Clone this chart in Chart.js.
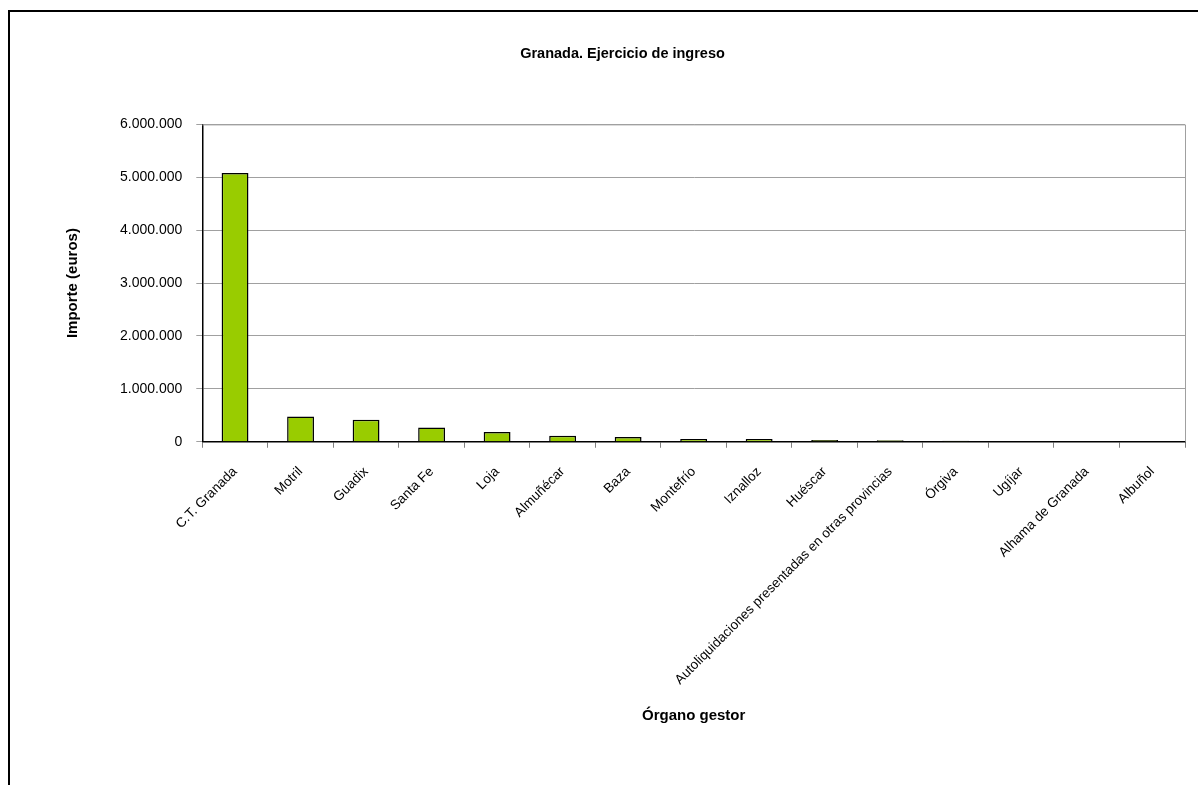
<!DOCTYPE html>
<html>
<head>
<meta charset="utf-8">
<script src="https://cdn.jsdelivr.net/npm/chart.js@4.4.1/dist/chart.umd.min.js"></script>
<style>
html,body{margin:0;padding:0;background:#fff;}
#wrap{position:relative;width:1198px;height:785px;overflow:hidden;}
#frame{position:absolute;left:8px;top:10px;width:1300px;height:900px;border-top:2px solid #000;border-left:2px solid #000;box-sizing:border-box;}
#c{position:absolute;left:0;top:0;}
</style>
</head>
<body>
<div id="wrap">
<div id="frame"></div>
<canvas id="c" width="1198" height="785"></canvas>
</div>
<script>
const categories = ["C.T. Granada","Motril","Guadix","Santa Fe","Loja","Almuñécar","Baza","Montefrío","Iznalloz","Huéscar","Autoliquidaciones presentadas en otras provincias","Órgiva","Ugíjar","Alhama de Granada","Albuñol"];
const importe = [5080000,479000,416000,271000,183000,114000,89000,51000,51000,32000,28000,19000,13000,12000,9000];
const yTicks = [0,1000000,2000000,3000000,4000000,5000000,6000000];
const chartTitle = "Granada. Ejercicio de ingreso";
const yTitle = "Importe (euros)";
const xTitle = "Órgano gestor";

function fmt(v){return String(v).replace(/\B(?=(\d{3})+(?!\d))/g,".");}

const plotBorder = {
  id:'plotBorder',
  afterDraw(chart){
    const {ctx, chartArea:a} = chart;
    ctx.save();
    ctx.strokeStyle='#a0a0a0';ctx.lineWidth=1;
    ctx.beginPath();
    ctx.moveTo(a.left,a.top+0.5);ctx.lineTo(a.right+0.5,a.top+0.5);ctx.lineTo(a.right+0.5,a.bottom);
    ctx.stroke();
    ctx.restore();
  }
};

new Chart(document.getElementById('c'),{
  type:'bar',
  data:{labels:categories,datasets:[{data:importe,backgroundColor:'#99cc00',borderColor:'#000000',borderWidth:1.5,barPercentage:0.41,categoryPercentage:1}]},
  options:{
    responsive:false,animation:false,
    layout:{padding:{left:60,right:13,top:20,bottom:56}},
    plugins:{
      legend:{display:false},
      tooltip:{enabled:false},
      title:{display:true,text:chartTitle,color:'#000',font:{family:'Liberation Sans, sans-serif',size:14.5,weight:'bold'},padding:{top:25,bottom:62}}
    },
    scales:{
      x:{
        offset:true,
        grid:{display:true,drawOnChartArea:false,drawTicks:true,tickLength:6,color:'#808080',offset:true},
        border:{display:true,color:'#000',width:1.5},
        ticks:{color:'#000',font:{family:'Liberation Sans, sans-serif',size:13.5},minRotation:45,maxRotation:45,autoSkip:false,padding:16},
        title:{display:true,text:xTitle,color:'#000',font:{family:'Liberation Sans, sans-serif',size:15,weight:'bold'},padding:{top:3}}
      },
      y:{
        min:0,max:6000000,
        afterBuildTicks(s){s.ticks=yTicks.map(v=>({value:v}));},
        grid:{color:'#a0a0a0',lineWidth:1,tickLength:6,drawTicks:true},
        border:{display:true,color:'#000',width:1.5},
        ticks:{color:'#000',font:{family:'Liberation Sans, sans-serif',size:14},padding:14,callback:v=>fmt(v)},
        title:{display:true,text:yTitle,color:'#000',font:{family:'Liberation Sans, sans-serif',size:15,weight:'bold'},padding:{bottom:24}}
      }
    }
  },
  plugins:[plotBorder]
});
</script>
</body>
</html>
